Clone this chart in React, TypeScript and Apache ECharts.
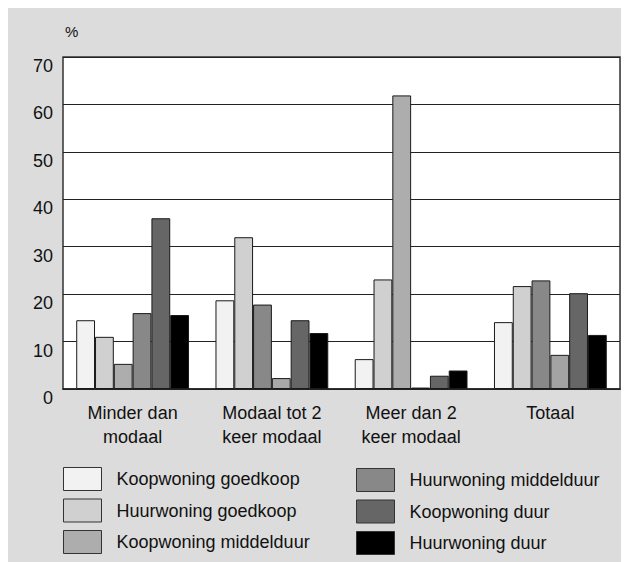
import React, { useEffect, useRef } from "react";
import * as echarts from "echarts";

const categories = ["Minder dan\nmodaal", "Modaal tot 2\nkeer modaal", "Meer dan 2\nkeer modaal", "Totaal"];
const seriesNames = [
  "Koopwoning goedkoop",
  "Huurwoning goedkoop",
  "Koopwoning middelduur",
  "Huurwoning middelduur",
  "Koopwoning duur",
  "Huurwoning duur",
];
const koopGoedkoop = [14.5, 18.7, 6.3, 14.1];
const huurGoedkoop = [11.0, 32.0, 23.1, 21.7];
const koopMiddelduur = [5.3, 17.8, 61.9, 22.9];
const huurMiddelduur = [16.0, 2.3, 0.3, 7.2];
const koopDuur = [36.0, 14.5, 2.8, 20.2];
const huurDuur = [15.6, 11.8, 3.9, 11.4];
const yTicks = [0, 10, 20, 30, 40, 50, 60, 70];

const seriesValues = [koopGoedkoop, huurGoedkoop, koopMiddelduur, huurMiddelduur, koopDuur, huurDuur];
const seriesColors = ["#f2f2f2", "#d0d0d0", "#adadad", "#888888", "#666666", "#000000"];
// per-bar colour overrides seen in the reference: [seriesIndex, categoryIndex, colour]
const colorOverrides: [number, number, string][] = [
  [2, 1, "#888888"],
  [3, 1, "#a8a8a8"],
  [2, 3, "#888888"],
  [3, 3, "#a3a3a3"],
];

const FONT = "Liberation Sans, Arial, sans-serif";

export default function App() {
  const ref = useRef<HTMLDivElement>(null);
  useEffect(() => {
    if (!ref.current) return;
    const chart = echarts.init(ref.current, undefined, { renderer: "svg" });
    const series = seriesNames.map((name, si) => ({
      name,
      type: "bar",
      barGap: "0%",
      barCategoryGap: "19%",
      itemStyle: { color: seriesColors[si], borderColor: "#1a1a1a", borderWidth: 1 },
      data: seriesValues[si].map((v, ci) => {
        const o = colorOverrides.find((c) => c[0] === si && c[1] === ci);
        return o ? { value: v, itemStyle: { color: o[2] } } : v;
      }),
    }));
    const legendCommon = {
      orient: "vertical",
      itemWidth: 38,
      itemHeight: 23,
      itemGap: 7.5,
      padding: 0,
      height: 95,
      width: 270,
      icon: "rect",
      selectedMode: false,
      itemStyle: { borderColor: "#333", borderWidth: 1 },
      textStyle: { fontFamily: FONT, fontSize: 18, color: "#111", padding: [0, 0, 0, 10] },
    };
    chart.setOption({
      animation: false,
      backgroundColor: "#dcdcdc",
      textStyle: { fontFamily: FONT },
      graphic: [
        {
          type: "text",
          left: 57,
          top: 16,
          style: { text: "%", fontFamily: FONT, fontSize: 15, fill: "#111" },
        },
      ],
      grid: {
        left: 55,
        top: 49,
        right: 9,
        bottom: 173,
        show: true,
        backgroundColor: "#ffffff",
        borderColor: "#333",
        borderWidth: 1.5,
      },
      legend: [
        { ...legendCommon, data: seriesNames.slice(0, 3), left: 55, top: 459 },
        { ...legendCommon, data: seriesNames.slice(3), left: 348, top: 460 },
      ],
      xAxis: {
        type: "category",
        data: categories,
        axisTick: { show: false },
        axisLine: { lineStyle: { color: "#222", width: 1.5 } },
        axisLabel: { fontFamily: FONT, fontSize: 18, color: "#111", lineHeight: 24, margin: 12, interval: 0 },
      },
      yAxis: {
        type: "value",
        min: yTicks[0],
        max: yTicks[yTicks.length - 1],
        interval: 10,
        axisLine: { show: false },
        axisTick: { show: false },
        splitLine: { lineStyle: { color: "#222", width: 1 } },
        axisLabel: {
          fontFamily: FONT,
          fontSize: 18,
          color: "#111",
          margin: 10,
          verticalAlign: "top",
          lineHeight: 18,
        },
      },
      series,
    });
    return () => chart.dispose();
  }, []);
  return <div ref={ref} style={{ width: 621, height: 554 }} />;
}
